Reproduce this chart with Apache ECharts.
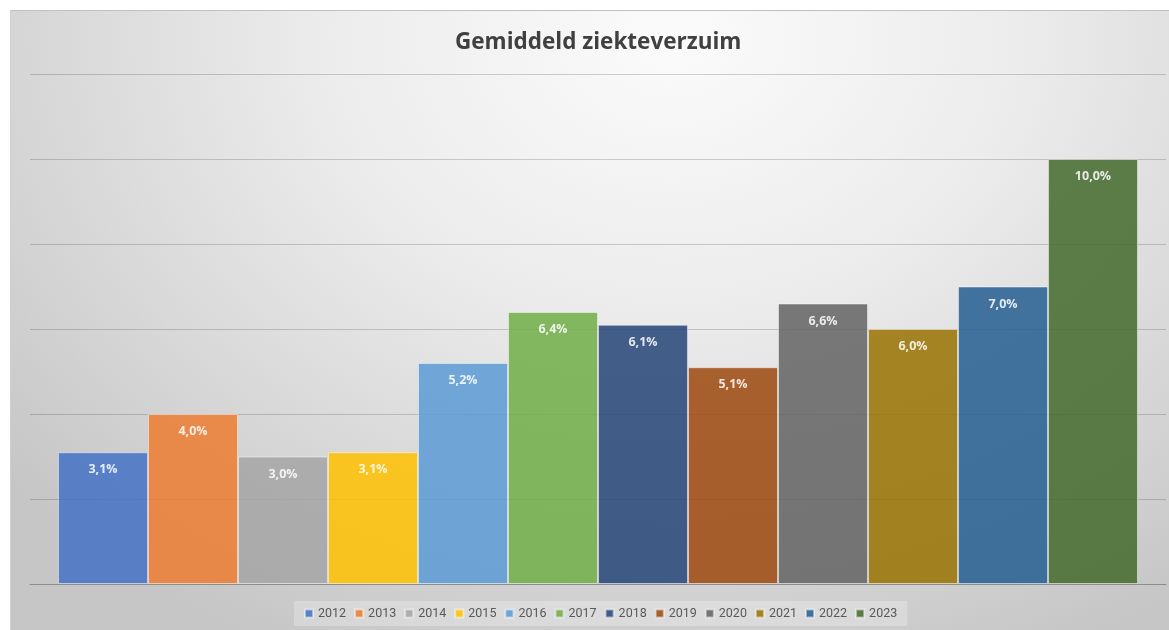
<!DOCTYPE html>
<html>
<head>
<meta charset="utf-8">
<script src="https://cdn.jsdelivr.net/npm/echarts@6/dist/echarts.min.js"></script>
<style>
  html, body { margin: 0; padding: 0; background: #ffffff; }
  #chart {
    position: absolute;
    left: 10px;
    top: 10px;
    width: 1159px;
    height: 620px;
    border-top: 1px solid #c0c0c0;
    border-left: 1px solid #d0d0d0;
    box-sizing: border-box;
    background: radial-gradient(ellipse 75% 110% at 57% 4%, #fbfbfb 0%, #ececec 40%, #d6d6d6 75%, #c6c6c6 100%);
  }
</style>
</head>
<body>
<div id="chart"></div>
<script>
// jaren (legenda) en verzuimpercentages
const years = ['2012', '2013', '2014', '2015', '2016', '2017', '2018', '2019', '2020', '2021', '2022', '2023']
const values = [3.1, 4.0, 3.0, 3.1, 5.2, 6.4, 6.1, 5.1, 6.6, 6.0, 7.0, 10.0]
const colors = ['#4472C4', '#ED7D31', '#A5A5A5', '#FFC000', '#5B9BD5', '#70AD47',
  '#264478', '#9E480E', '#636363', '#997300', '#255E91', '#43682B']

const chart = echarts.init(document.getElementById('chart'))

const series = years.map((y, i) => ({
  name: y,
  type: 'bar',
  data: [values[i]],
  barWidth: 90,
  barGap: '0%',
  itemStyle: {
    color: colors[i],
    opacity: 0.85,
    borderColor: 'rgba(255,255,255,0.55)',
    borderWidth: 1
  },
  label: {
    show: true,
    position: 'insideTop',
    distance: 11,
    color: '#ffffff',
    fontWeight: 'bold',
    fontSize: 12.5,
    fontFamily: 'Open Sans',
    formatter: (p) => p.value.toFixed(1).replace('.', ',') + '%'
  }
}))

chart.setOption({
  animation: false,
  color: colors,
  title: {
    text: 'Gemiddeld ziekteverzuim',
    left: 439,
    top: 15,
    textStyle: {
      fontFamily: 'Open Sans',
      fontSize: 22.5,
      fontWeight: 'bold',
      color: '#404040'
    }
  },
  legend: {
    bottom: 4,
    left: 283,
    itemWidth: 8,
    itemHeight: 8,
    itemGap: 8,
    icon: 'rect',
    padding: [6, 10],
    backgroundColor: 'rgba(255,255,255,0.25)',
    textStyle: { fontFamily: 'Roboto', fontSize: 12.5, color: '#595959' }
  },
  grid: { left: 19, right: 3, top: 63, bottom: 46, containLabel: false },
  xAxis: {
    type: 'category',
    data: ['Gemiddeld ziekteverzuim'],
    axisLine: { show: true, lineStyle: { color: '#8c8c8c', width: 1 } },
    axisTick: { show: false },
    axisLabel: { show: false }
  },
  yAxis: {
    type: 'value',
    min: 0,
    max: 12,
    interval: 2,
    axisLine: { show: false },
    axisTick: { show: false },
    axisLabel: { show: false },
    splitLine: { lineStyle: { color: 'rgba(0,0,0,0.17)', width: 1 } }
  },
  series: series
})
</script>
</body>
</html>
